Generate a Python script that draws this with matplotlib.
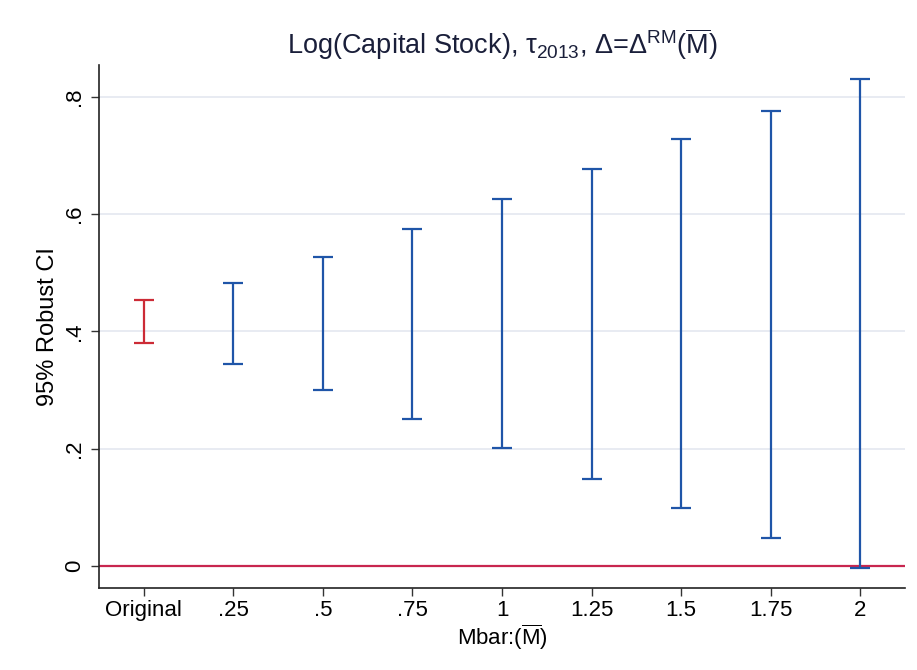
import numpy as np
import matplotlib
matplotlib.use("Agg")
import matplotlib.pyplot as plt

plt.rcParams['font.family'] = ['Liberation Sans', 'DejaVu Sans']
plt.rcParams['mathtext.fontset'] = 'custom'
plt.rcParams['mathtext.rm'] = 'Liberation Sans'
plt.rcParams['mathtext.it'] = 'Liberation Sans'
plt.rcParams['mathtext.bf'] = 'Liberation Sans:bold'

# data
labels = ["Original", ".25", ".5", ".75", "1", "1.25", "1.5", "1.75", "2"]
ci_lower = [0.380, 0.344, 0.300, 0.250, 0.201, 0.148, 0.099, 0.048, -0.003]
ci_upper = [0.453, 0.482, 0.526, 0.575, 0.625, 0.676, 0.727, 0.776, 0.829]
y_ticks = [0, 0.2, 0.4, 0.6, 0.8]
y_tick_labels = ["0", ".2", ".4", ".6", ".8"]

blue = "#1f55a8"
red = "#cc2b36"
zero_col = "#c8264f"
grid_col = "#e4e8f0"

fig = plt.figure(figsize=(9.17, 6.70), dpi=100)
ax = fig.add_axes([0.108, 0.1224, 0.879, 0.78])

x = np.arange(len(labels))
lo = np.array(ci_lower)
hi = np.array(ci_upper)
mid = (lo + hi) / 2
half = (hi - lo) / 2

for yt in y_ticks:
    ax.axhline(yt, color=grid_col, lw=1.2, zorder=0)
ax.axhline(0, color=zero_col, lw=1.6, zorder=1)

colors = [red] + [blue] * (len(labels) - 1)
for xi, m, h, c in zip(x, mid, half, colors):
    ax.errorbar(xi, m, yerr=h, fmt='none', ecolor=c, elinewidth=1.6,
                capsize=7, capthick=1.6, zorder=3)

ax.set_xlim(-0.5, 8.5)
ax.set_ylim(-0.037, 0.853)
ax.set_xticks(x)
ax.set_xticklabels(labels, fontsize=16)
ax.set_yticks(y_ticks)
ax.set_yticklabels(y_tick_labels, fontsize=16, rotation=90, va='center')
ax.tick_params(axis='both', direction='out', length=6, width=1, color='#333333')
ax.tick_params(axis='x', pad=3)
ax.tick_params(axis='y', pad=4)

for s in ['top', 'right']:
    ax.spines[s].set_visible(False)
for s in ['left', 'bottom']:
    ax.spines[s].set_color('#222222')
    ax.spines[s].set_linewidth(1.2)

ax.set_xlabel(r"Mbar:($\overline{\mathrm{M}}$)", fontsize=16, labelpad=1)
ax.set_ylabel("95% Robust CI", fontsize=17, labelpad=4)
ax.set_title(r"Log(Capital Stock), $\mathrm{\tau}_{2013}$, $\Delta$=$\Delta^{\mathrm{RM}}$($\overline{\mathrm{M}}$)",
             fontsize=19.5, color='#1a1f3a', pad=8)

fig.savefig("out.png", dpi=100, facecolor='white')
